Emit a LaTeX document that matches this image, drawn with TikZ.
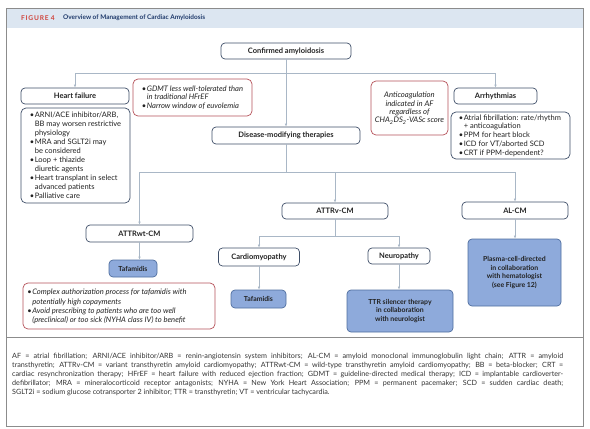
\documentclass[tikz,border=0pt]{standalone}
\usepackage{fontspec}
\setmainfont{Lato}
\usetikzlibrary{arrows.meta,calc}
\definecolor{headfill}{HTML}{DCE6F1}
\definecolor{figred}{HTML}{D0443C}
\definecolor{titleblue}{HTML}{1F3A6B}
\definecolor{boxc}{HTML}{3E4E68}
\definecolor{connc}{HTML}{A9B7C6}
\definecolor{redc}{HTML}{B5525A}
\definecolor{bluefill}{HTML}{8EAADB}
\definecolor{bluec}{HTML}{4F6E9F}
\definecolor{framec}{HTML}{8C8C8C}
\definecolor{textc}{HTML}{222222}
\definecolor{footc}{HTML}{333333}
\newcommand\li[1]{\makebox[5pt][l]{•}#1}
\newcommand\lc[1]{\hspace*{5pt}#1}
\newcommand\fl[1]{\makebox[551pt][s]{#1}}
\tikzset{
 sz/.style 2 args={minimum width=#1pt, minimum height=#2pt},
 wbox/.style={draw=boxc, fill=white, rounded corners=4pt, line width=0.7pt, font=\bfseries\fontsize{7.5}{8}\selectfont, inner sep=0pt, text=textc},
 lbox/.style={draw=boxc, fill=white, rounded corners=5pt, line width=0.7pt, inner sep=0pt},
 rbox/.style={draw=redc, fill=white, rounded corners=5pt, line width=0.7pt, inner sep=0pt, font=\itshape\fontsize{7.7}{8.4}\selectfont, text=textc},
 ltext/.style={anchor=west, inner sep=0pt, align=left, text=textc, font=\fontsize{7.5}{9}\selectfont},
 itext/.style={anchor=west, inner sep=0pt, align=left, text=textc, font=\itshape\fontsize{7.6}{8.7}\selectfont},
 bbox/.style={draw=bluec, fill=bluefill, rounded corners=4pt, line width=0.7pt, inner sep=0pt, font=\bfseries\fontsize{6.9}{8.7}\selectfont, align=center, text=textc},
 conn/.style={draw=connc, line width=0.7pt},
 arrow/.style={conn, -{Latex[length=3pt,width=2.6pt]}},
}
\begin{document}
\begin{tikzpicture}[x=1pt,y=-1pt]
\useasboundingbox (0,0) rectangle (590,429);
% frame and header
\fill[headfill] (6,8) rectangle (583,28);
\draw[framec, line width=0.6pt] (6,8) rectangle (583,426);
\draw[framec, line width=0.6pt] (6,337) -- (583,337);
\node[anchor=west, inner sep=0pt, font=\bfseries\fontsize{6.6}{8}\selectfont, text=figred] (figlab) at (21,18) {\addfontfeature{LetterSpace=12}FIGURE 4};
\node[anchor=west, inner sep=0pt, font=\bfseries\fontsize{6.45}{9}\selectfont, text=titleblue] (title) at (63,18) {Overview of Management of Cardiac Amyloidosis};

% nodes
\node[wbox, sz={130}{16}] (conf) at (286,51) {Confirmed amyloidosis};
\node[wbox, sz={108}{16}] (hf) at (75,96) {Heart failure};
\node[lbox, sz={109}{95}] (hfl) at (75.5,155.5) {};
\node[ltext] (hflt) at ($(hfl.west)+(9,0)$) {%
\li{ARNI/ACE inhibitor/ARB,}\\
\lc{BB may worsen restrictive}\\
\lc{physiology}\\
\li{MRA and SGLT2i may}\\
\lc{be considered}\\
\li{Loop + thiazide}\\
\lc{diuretic agents}\\
\li{Heart transplant in select}\\
\lc{advanced patients}\\
\li{Palliative care}};
\node[rbox, sz={119}{37}] (gdmt) at (192.5,97.5) {};
\node[itext] (gdmtt) at ($(gdmt.west)+(9,0)$) {%
\li{GDMT less well-tolerated than}\\
\lc{in traditional HFrEF}\\
\li{Narrow window of euvolemia}};
\node[rbox, sz={77}{54}, align=center] (anti) at (409.5,108) {%
Anticoagulation\\
indicated in AF\\
regardless of\\
CHA\textsubscript{2}DS\textsubscript{2}-VASc score};
\node[wbox, sz={83}{16}] (arr) at (495.5,96) {Arrhythmias};
\node[lbox, sz={119}{47}] (arrl) at (510.5,135.5) {};
\node[ltext, font=\fontsize{7.5}{8.7}\selectfont] (arrlt) at ($(arrl.west)+(8,0)$) {%
\li{Atrial fibrillation: rate/rhythm}\\
\lc{+ anticoagulation}\\
\li{PPM for heart block}\\
\li{ICD for VT/aborted SCD}\\
\li{CRT if PPM-dependent?}};
\node[wbox, sz={148}{17}] (dmt) at (286,135.5) {Disease-modifying therapies};
\node[wbox, sz={107}{17}] (wt) at (139.5,233.5) {ATTRwt-CM};
\node[wbox, sz={106}{16}] (v) at (335,211) {ATTRv-CM};
\node[wbox, sz={106}{17}] (al) at (515,210.5) {AL-CM};
\node[wbox, sz={81}{18}] (card) at (259,257) {Cardiomyopathy};
\node[wbox, sz={62}{16}] (neuro) at (399,256) {Neuropathy};
\node[bbox, sz={48}{17}] (taf1) at (133,268.5) {Tafamidis};
\node[bbox, sz={55}{18}] (taf2) at (258.5,299) {Tafamidis};
\node[bbox, sz={106}{42}] (ttr) at (400,311) {TTR silencer therapy\\in collaboration\\with neurologist};
\node[bbox, sz={93}{67}] (plasma) at (514.5,272.5) {Plasma-cell-directed\\in collaboration\\with hematologist\\(see Figure 12)};
\node[rbox, sz={192}{46}] (cav) at (119,306) {};
\node[itext, font=\itshape\fontsize{7.6}{9.2}\selectfont] (cavt) at ($(cav.west)+(4.5,0.5)$) {%
\li{Complex authorization process for tafamidis with}\\
\lc{potentially high copayments}\\
\li{Avoid prescribing to patients who are too well}\\
\lc{(preclinical) or too sick (NYHA class IV) to benefit}};

% connectors
\coordinate (j1) at (286,73);
\coordinate (j2) at (286,172);
\coordinate (j3) at (335,236);
\draw[arrow] (conf) -- (dmt);
\draw[arrow] (j1) -| (hf.north);
\draw[arrow] (j1) -| (arr.north);
\draw[conn] (dmt) -- (j2);
\draw[arrow] (j2) -| (wt.north);
\draw[arrow] (j2) -| (v.north);
\draw[arrow] (j2) -| (al.north);
\draw[arrow] (wt.south) -- (wt.south |- taf1.north);
\draw[conn] (v) -- (j3);
\draw[arrow] (j3) -| (card.north);
\draw[arrow] (j3) -| (neuro.north);
\draw[arrow] (card) -- (card |- taf2.north);
\draw[arrow] (neuro) -- (neuro |- ttr.north);
\draw[arrow] (al) -- (al |- plasma.north);

% footnote
\node[anchor=north west, inner sep=0pt, align=left, text=footc, font=\fontsize{7.2}{9}\selectfont] (foot) at (12,353) {%
\fl{AF = atrial fibrillation; ARNI/ACE inhibitor/ARB = renin-angiotensin system inhibitors; AL-CM = amyloid monoclonal immunoglobulin light chain; ATTR = amyloid}\\
\fl{transthyretin; ATTRv-CM = variant transthyretin amyloid cardiomyopathy; ATTRwt-CM = wild-type transthyretin amyloid cardiomyopathy; BB = beta-blocker; CRT =}\\
\fl{cardiac resynchronization therapy; HFrEF = heart failure with reduced ejection fraction; GDMT = guideline-directed medical therapy; ICD = implantable cardioverter-}\\
\fl{defibrillator; MRA = mineralocorticoid receptor antagonists; NYHA = New York Heart Association; PPM = permanent pacemaker; SCD = sudden cardiac death;}\\
SGLT2i = sodium glucose cotransporter 2 inhibitor; TTR = transthyretin; VT = ventricular tachycardia.};
\end{tikzpicture}
\end{document}
